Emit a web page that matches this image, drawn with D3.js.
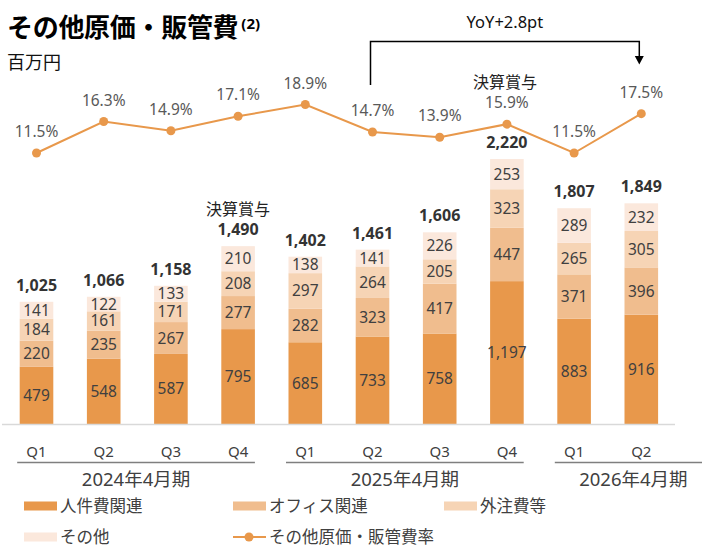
<!DOCTYPE html>
<html>
<head>
<meta charset="utf-8">
<script src="https://cdn.jsdelivr.net/npm/d3@7"></script>
<style>
  html, body { margin: 0; padding: 0; background: #fff; }
  svg { display: block; font-family: "Noto Sans", "Noto Sans CJK JP", sans-serif; }
</style>
</head>
<body>
<svg id="chart" width="703" height="556"></svg>
<script>
// ---- data ----
const quarters = ["Q1","Q2","Q3","Q4","Q1","Q2","Q3","Q4","Q1","Q2"];
const fiscalYears = ["2024年4月期","2025年4月期","2026年4月期"];
const fiscalYearOf = [0,0,0,0,1,1,1,1,2,2];
const seriesNames = ["人件費関連","オフィス関連","外注費等","その他"];
const personnel = [479, 548, 587, 795, 685, 733, 758, 1197, 883, 916];
const office    = [220, 235, 267, 277, 282, 323, 417, 447, 371, 396];
const outsource = [184, 161, 171, 208, 297, 264, 205, 323, 265, 305];
const other     = [141, 122, 133, 210, 138, 141, 226, 253, 289, 232];
const totals    = [1025, 1066, 1158, 1490, 1402, 1461, 1606, 2220, 1807, 1849];
const ratio     = [11.5, 16.3, 14.9, 17.1, 18.9, 14.7, 13.9, 15.9, 11.5, 17.5];
const ratioName = "その他原価・販管費率";
const bonusNote = "決算賞与";
const bonusBars = [3];
const bonusPoints = [7];
const yoyText = "YoY+2.8pt";
const yoyFrom = 5, yoyTo = 9;

const colors = ["#E8984B", "#F0BD8E", "#F6D4B5", "#FBE8DC"];
const lineColor = "#E8984B";
const textColor = "#404040";

const svg = d3.select("#chart");

// ---- scales ----
const idx = d3.range(quarters.length);
const x = d3.scaleBand().domain(idx).range([2.9, 674.9]).paddingInner(0.5).paddingOuter(0.25);
const bw = x.bandwidth();
const cx = i => x(i) + bw / 2;
const y = d3.scaleLinear().domain([0, 2500]).range([424, 424 - 2500 * 0.11935]);
const yr = d3.scaleLinear().domain([11.5, 18.9]).range([153, 104.5]);

// ---- title ----
const title = svg.append("text").attr("x", 7).attr("y", 37)
  .attr("font-size", 26).attr("font-weight", 700).attr("fill", "#000")
  .attr("letter-spacing", -0.3)
  .text("その他原価・販管費");
title.append("tspan").attr("font-size", 15).attr("dy", -8).attr("dx", 3).attr("letter-spacing", 0).text("(2)");
svg.append("text").attr("x", 7).attr("y", 69).attr("font-size", 18).attr("fill", "#111").text("百万円");

// ---- stacked bars ----
const rows = idx.map(i => ({i, personnel: personnel[i], office: office[i], outsource: outsource[i], other: other[i]}));
const keys = ["personnel","office","outsource","other"];
const stacked = d3.stack().keys(keys)(rows);

const g = svg.append("g");
stacked.forEach((layer, k) => {
  g.selectAll(null).data(layer).enter().append("rect")
    .attr("x", d => x(d.data.i)).attr("width", bw)
    .attr("y", d => y(d[1])).attr("height", d => y(d[0]) - y(d[1]))
    .attr("fill", colors[k]);
  g.selectAll(null).data(layer).enter().append("text")
    .attr("x", d => cx(d.data.i)).attr("y", d => (y(d[0]) + y(d[1])) / 2 + 5.5)
    .attr("text-anchor", "middle").attr("font-size", 15.5).attr("fill", textColor)
    .text(d => d3.format(",")(d[1] - d[0]));
});

// baseline
svg.append("line").attr("x1", 2).attr("x2", 675).attr("y1", y(0) + 0.5).attr("y2", y(0) + 0.5)
  .attr("stroke", "#d9d9d9").attr("stroke-width", 1.5);

// totals
svg.selectAll(null).data(idx).enter().append("text")
  .attr("x", i => cx(i)).attr("y", i => y(totals[i]) - 11)
  .attr("text-anchor", "middle").attr("font-size", 16).attr("font-weight", 700).attr("fill", "#333")
  .text(i => d3.format(",")(totals[i]));

// bonus notes
bonusBars.forEach(i => {
  svg.append("text").attr("x", cx(i)).attr("y", y(totals[i]) - 31)
    .attr("text-anchor", "middle").attr("font-size", 16).attr("fill", "#222").text(bonusNote);
});
bonusPoints.forEach(i => {
  svg.append("text").attr("x", cx(i) - 2).attr("y", yr(ratio[i]) - 36)
    .attr("text-anchor", "middle").attr("font-size", 16).attr("fill", "#222").text(bonusNote);
});

// ---- ratio line ----
const line = d3.line().x(i => cx(i)).y(i => yr(ratio[i]));
svg.append("path").datum(idx).attr("d", line).attr("fill", "none")
  .attr("stroke", lineColor).attr("stroke-width", 2);
svg.selectAll(null).data(idx).enter().append("circle")
  .attr("cx", i => cx(i)).attr("cy", i => yr(ratio[i])).attr("r", 4.5).attr("fill", lineColor);
svg.selectAll(null).data(idx).enter().append("text")
  .attr("x", i => cx(i)).attr("y", i => yr(ratio[i]) - 16)
  .attr("text-anchor", "middle").attr("font-size", 15.5).attr("fill", "#595959")
  .text(i => ratio[i].toFixed(1) + "%");

// ---- YoY bracket ----
const bx1 = cx(yoyFrom) - 2, bx2 = cx(yoyTo) - 2;
svg.append("path")
  .attr("d", `M${bx1},85 V41.5 H${bx2} V57`)
  .attr("fill", "none").attr("stroke", "#000").attr("stroke-width", 1.5);
svg.append("path")
  .attr("d", `M${bx2 - 4.5},56 L${bx2 + 4.5},56 L${bx2},64.5 Z`).attr("fill", "#000");
svg.append("text").attr("x", (bx1 + bx2) / 2 + 0).attr("y", 28)
  .attr("text-anchor", "middle").attr("font-size", 16.5).attr("fill", "#111").text(yoyText);

// ---- x axis (quarters + fiscal years) ----
svg.selectAll(null).data(idx).enter().append("text")
  .attr("x", i => cx(i)).attr("y", 456.5)
  .attr("text-anchor", "middle").attr("font-size", 15).attr("fill", textColor)
  .text(i => quarters[i]);

fiscalYears.forEach((fy, k) => {
  const members = idx.filter(i => fiscalYearOf[i] === k);
  const last = k === fiscalYears.length - 1;
  const x1 = x(members[0]) - 2.5;
  const x2 = last ? 702 : x(members[members.length - 1]) + bw;
  svg.append("line").attr("x1", x1).attr("x2", x2).attr("y1", 462.5).attr("y2", 462.5)
    .attr("stroke", "#7f7f7f").attr("stroke-width", 1.3);
  svg.append("text").attr("x", (x1 + x2) / 2 + (last ? 5 : 0)).attr("y", 485.5)
    .attr("text-anchor", "middle").attr("font-size", 18.5).attr("fill", textColor).text(fy);
});

// ---- legend ----
const legendItems = [
  {name: seriesNames[0], type: "rect", color: colors[0], x: 24, y: 506},
  {name: seriesNames[1], type: "rect", color: colors[1], x: 233, y: 506},
  {name: seriesNames[2], type: "rect", color: colors[2], x: 444, y: 506},
  {name: seriesNames[3], type: "rect", color: colors[3], x: 24, y: 537},
  {name: ratioName, type: "line", color: lineColor, x: 233, y: 537}
];
legendItems.forEach(it => {
  if (it.type === "rect") {
    svg.append("rect").attr("x", it.x).attr("y", it.y - 4.5).attr("width", 33).attr("height", 9).attr("fill", it.color);
  } else {
    svg.append("line").attr("x1", it.x).attr("x2", it.x + 33).attr("y1", it.y).attr("y2", it.y)
      .attr("stroke", it.color).attr("stroke-width", 2);
    svg.append("circle").attr("cx", it.x + 16).attr("cy", it.y).attr("r", 4.5).attr("fill", it.color);
  }
  svg.append("text").attr("x", it.x + 36).attr("y", it.y + 6)
    .attr("font-size", 16.5).attr("fill", textColor).text(it.name);
});
</script>
</body>
</html>
